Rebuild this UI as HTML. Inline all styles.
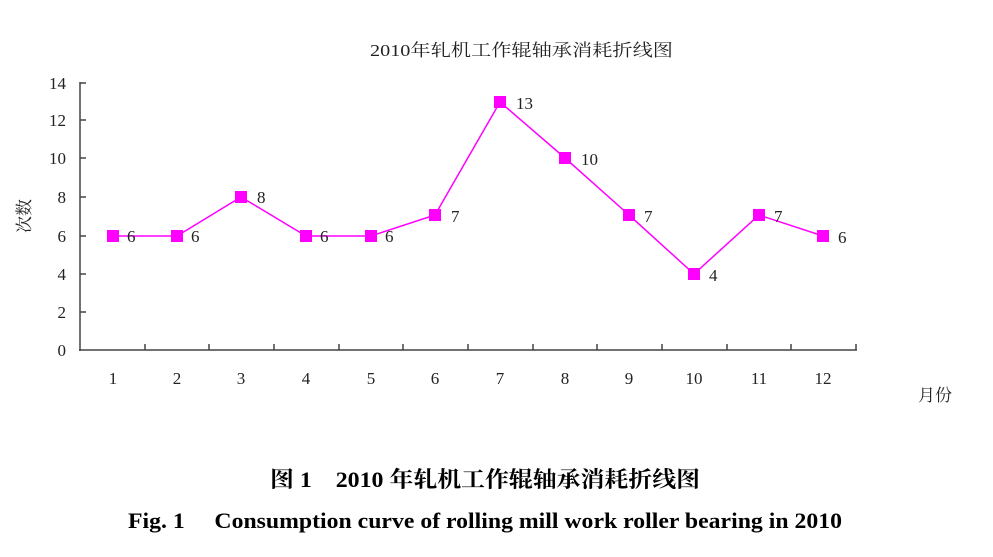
<!DOCTYPE html>
<html><head><meta charset="utf-8"><style>body{margin:0;background:#fff}</style></head><body>
<svg width="993" height="552" xmlns="http://www.w3.org/2000/svg" font-family="Liberation Serif, Noto Serif CJK SC, serif">
<rect width="993" height="552" fill="#fff"/>
<text x="370" y="56" font-size="17" textLength="303" lengthAdjust="spacingAndGlyphs" fill="#222">2010年轧机工作辊轴承消耗折线图</text>
<g stroke="#444" stroke-width="1.5" fill="none">
<line x1="80" y1="82" x2="80" y2="351"/>
<line x1="79" y1="350" x2="857" y2="350"/>
<path d="M80 83h6M80 120h6M80 158h6M80 197h6M80 236h6M80 274h6M80 312h6"/>
<path d="M145 350v-6M209 350v-6M274 350v-6M339 350v-6M403 350v-6M468 350v-6M533 350v-6M597 350v-6M662 350v-6M727 350v-6M791 350v-6M856 350v-6"/>
</g>
<g font-size="17" fill="#222" text-anchor="end">
<text x="66" y="89">14</text><text x="66" y="126">12</text><text x="66" y="164">10</text><text x="66" y="203">8</text><text x="66" y="242">6</text><text x="66" y="280">4</text><text x="66" y="318">2</text><text x="66" y="356">0</text>
</g>
<g font-size="17" fill="#222" text-anchor="middle">
<text x="113" y="384">1</text><text x="177" y="384">2</text><text x="241" y="384">3</text><text x="306" y="384">4</text><text x="371" y="384">5</text><text x="435" y="384">6</text><text x="500" y="384">7</text><text x="565" y="384">8</text><text x="629" y="384">9</text><text x="694" y="384">10</text><text x="759" y="384">11</text><text x="823" y="384">12</text>
</g>
<text x="935" y="401" font-size="17" text-anchor="middle" fill="#222">月份</text>
<text transform="translate(30,216) rotate(-90)" font-size="17" text-anchor="middle" fill="#222">次数</text>
<polyline fill="none" stroke="#ff00ff" stroke-width="1.5" points="113,236 177,236 241,197 306,236 371,236 435,215 500,102 565,158 629,215 694,274 759,215 823,236"/>
<g fill="#ff00ff">
<rect x="107" y="230" width="12" height="12"/><rect x="171" y="230" width="12" height="12"/><rect x="235" y="191" width="12" height="12"/><rect x="300" y="230" width="12" height="12"/><rect x="365" y="230" width="12" height="12"/><rect x="429" y="209" width="12" height="12"/><rect x="494" y="96" width="12" height="12"/><rect x="559" y="152" width="12" height="12"/><rect x="623" y="209" width="12" height="12"/><rect x="688" y="268" width="12" height="12"/><rect x="753" y="209" width="12" height="12"/><rect x="817" y="230" width="12" height="12"/>
</g>
<g font-size="17" fill="#222">
<text x="127" y="242">6</text><text x="191" y="242">6</text><text x="257" y="203">8</text><text x="320" y="242">6</text><text x="385" y="242">6</text><text x="451" y="222">7</text><text x="516" y="109">13</text><text x="581" y="165">10</text><text x="644" y="222">7</text><text x="709" y="281">4</text><text x="774" y="222">7</text><text x="838" y="243">6</text>
</g>
<text x="270" y="487" font-size="22" font-weight="bold" textLength="430" lengthAdjust="spacingAndGlyphs" fill="#000">图 1　2010 年轧机工作辊轴承消耗折线图</text>
<text x="128" y="528" font-size="22" font-weight="bold" textLength="714" lengthAdjust="spacingAndGlyphs" fill="#000">Fig. 1　 Consumption curve of rolling mill work roller bearing in 2010</text>
</svg>
</body></html>
